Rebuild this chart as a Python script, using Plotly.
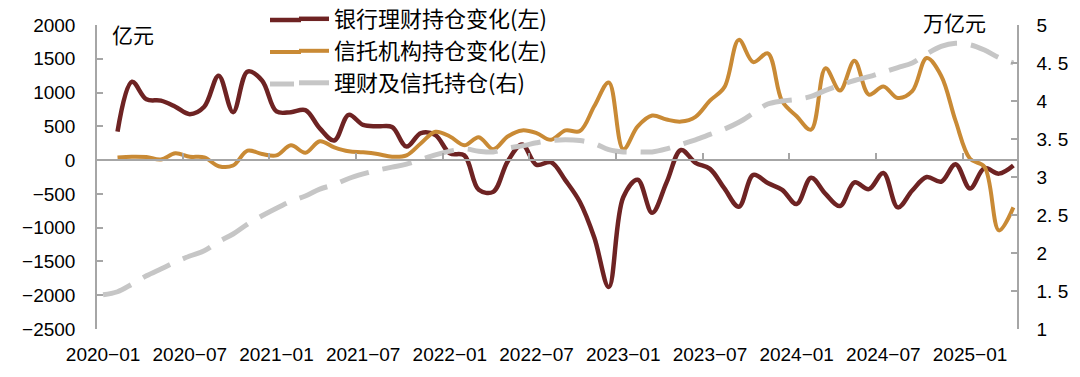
import pandas as pd
import plotly.graph_objects as go

# ---- data ----
months = [d.strftime("%Y-%m") for d in pd.date_range("2020-01-01", "2025-04-01", freq="MS")]

bank_change = [420, 1160, 900, 880, 790, 680, 790, 1250, 710, 1310,
               1180, 720, 710, 740, 470, 290, 670, 520, 500, 490,
               200, 400, 370, 100, 70, -440, -470, -20, 230, -70,
               -30, -300, -620, -1150, -1880, -550, -290, -780, -330, 150,
               -40, -130, -420, -690, -220, -340, -440, -650, -260, -500,
               -680, -330, -430, -190, -700, -450, -250, -320, -60, -420,
               -120, -200, -80]

trust_change = [40, 50, 45, 10, 100, 50, 40, -90, -80, 140,
                90, 70, 220, 110, 280, 190, 130, 115, 90, 50,
                70, 250, 420, 350, 220, 340, 160, 350, 440, 400,
                300, 440, 430, 800, 1150, 160, 500, 660, 600, 570,
                640, 880, 1080, 1780, 1450, 1580, 870, 650, 450, 1360,
                1030, 1470, 970, 1090, 920, 1020, 1510, 1250, 580, 20,
                -100, -1040, -700]

holdings = [1.45, 1.49, 1.59, 1.70, 1.79, 1.88, 1.96, 2.03, 2.15, 2.25,
            2.38, 2.49, 2.59, 2.68, 2.75, 2.84, 2.90, 2.98, 3.04, 3.09,
            3.13, 3.17, 3.23, 3.29, 3.34, 3.37, 3.34, 3.33, 3.38, 3.41,
            3.45, 3.48, 3.49, 3.48, 3.44, 3.36, 3.33, 3.33, 3.33, 3.37,
            3.43, 3.49, 3.56, 3.63, 3.72, 3.84, 3.96, 4.00, 4.02, 4.06,
            4.14, 4.21, 4.27, 4.32, 4.38, 4.44, 4.50, 4.62, 4.72, 4.76,
            4.74, 4.67, 4.57, 4.50]

x_tick_vals = ["2020-01", "2020-07", "2021-01", "2021-07", "2022-01", "2022-07",
               "2023-01", "2023-07", "2024-01", "2024-07", "2025-01"]
x_tick_text = [t.replace("-", "\u2212") for t in x_tick_vals]
left_ticks = [2000, 1500, 1000, 500, 0, -500, -1000, -1500, -2000, -2500]
right_ticks = [1, 1.5, 2, 2.5, 3, 3.5, 4, 4.5, 5]
right_tick_text = ["1", "1. 5", "2", "2. 5", "3", "3. 5", "4", "4. 5", "5"]
names = ["银行理财持仓变化(左)", "信托机构持仓变化(左)", "理财及信托持仓(右)"]

# ---- figure ----
C_BANK = "#6E2323"
C_TRUST = "#C98A35"
C_GRAY = "#C6C6C6"
AXIS_C = "#A6A6A6"
TICK_FONT = dict(family="Liberation Sans, Arial, sans-serif", size=19, color="black")
CJK = "Noto Sans CJK SC"
GRAY_DASH = "30px,14px"
W_BANK, W_TRUST, W_GRAY = 4.5, 4, 5

W, H = 1080, 377
L, R, T, B = 97, 63, 25, 48
PW, PH = W - L - R, H - T - B

fig = go.Figure()
fig.add_trace(go.Scatter(
    x=months, y=holdings, name=names[2], yaxis="y2", mode="lines",
    line=dict(color=C_GRAY, width=W_GRAY, dash=GRAY_DASH, shape="spline"),
    legend="legend3"))
fig.add_trace(go.Scatter(
    x=months[1:], y=bank_change, name=names[0], mode="lines",
    line=dict(color=C_BANK, width=W_BANK, shape="spline"), legend="legend"))
fig.add_trace(go.Scatter(
    x=months[1:], y=trust_change, name=names[1], mode="lines",
    line=dict(color=C_TRUST, width=W_TRUST, shape="spline"), legend="legend2"))
# helper trace for the zero-line axis with its tick marks
fig.add_trace(go.Scatter(x=[None], y=[None], xaxis="x2", yaxis="y",
                         showlegend=False, hoverinfo="skip"))

n = len(months)
xr = [-0.42, n - 1 + 0.25]


def py(pix_y):
    return (H - B - pix_y) / PH


def px(pix_x):
    return (pix_x - L) / PW


LEG_X = px(294)
row_y = [py(19), py(51), py(83)]


def leg(yv):
    return dict(xref="paper", yref="paper", x=LEG_X, y=yv,
                xanchor="left", yanchor="middle", bgcolor="rgba(0,0,0,0)",
                font=dict(family=CJK, size=22, color="black"))


# extend legend line samples to the left (reference samples are ~60px long)
ext_shapes = []
for yv, col, wd, x1 in zip(row_y, [C_BANK, C_TRUST, C_GRAY],
                           [W_BANK, W_TRUST, W_GRAY], [301, 301, 294]):
    ext_shapes.append(dict(type="line", xref="paper", yref="paper",
                           x0=px(270), x1=px(x1), y0=yv - 1 / PH, y1=yv - 1 / PH,
                           line=dict(color=col, width=wd)))

fig.update_layout(
    width=W, height=H,
    margin=dict(l=L, r=R, t=T, b=B, autoexpand=False),
    plot_bgcolor="white", paper_bgcolor="white",
    showlegend=True,
    legend=leg(row_y[0]), legend2=leg(row_y[1]), legend3=leg(row_y[2]),
    xaxis=dict(type="category", categoryorder="array", categoryarray=months,
               range=xr, tickvals=x_tick_vals, ticktext=x_tick_text, tickangle=0,
               showgrid=False, showline=False, zeroline=False, ticks="",
               tickfont=TICK_FONT, ticklabelstandoff=12),
    xaxis2=dict(overlaying="x", anchor="free", side="top",
                position=2500 / 4500, range=xr,
                tickvals=[i + 0.5 for i in range(5, n - 1, 6)],
                ticks="outside", ticklen=6, tickcolor=AXIS_C, tickwidth=1.5,
                showticklabels=False, showline=True, linecolor=AXIS_C, linewidth=1.5,
                showgrid=False, zeroline=False),
    yaxis=dict(range=[-2500, 2000], tickvals=left_ticks, showgrid=False,
               zeroline=False, showline=True, linecolor=AXIS_C, linewidth=1.5,
               ticks="inside", ticklen=6, tickcolor=AXIS_C, tickwidth=1.5,
               tickfont=TICK_FONT, ticklabelstandoff=16),
    yaxis2=dict(range=[1, 5], tickvals=right_ticks, ticktext=right_tick_text,
                overlaying="y", side="right", anchor="x", showgrid=False,
                zeroline=False, showline=True, linecolor=AXIS_C, linewidth=1.5,
                ticks="inside", ticklen=6, tickcolor=AXIS_C, tickwidth=1.5,
                tickfont=TICK_FONT, ticklabelstandoff=14),
    shapes=ext_shapes,
    annotations=[
        dict(text="亿元", xref="paper", yref="paper", x=px(110), y=py(34),
             xanchor="left", yanchor="middle", showarrow=False,
             font=dict(family=CJK, size=21, color="black")),
        dict(text="万亿元", xref="paper", yref="paper", x=px(988), y=py(22),
             xanchor="right", yanchor="middle", showarrow=False,
             font=dict(family=CJK, size=21, color="black")),
    ],
)

# remove the browser's default 8px page margin so the figure fills the window
fig.write_html("out.html", config={"displayModeBar": False},
               post_script="document.body.style.margin='0px';")
